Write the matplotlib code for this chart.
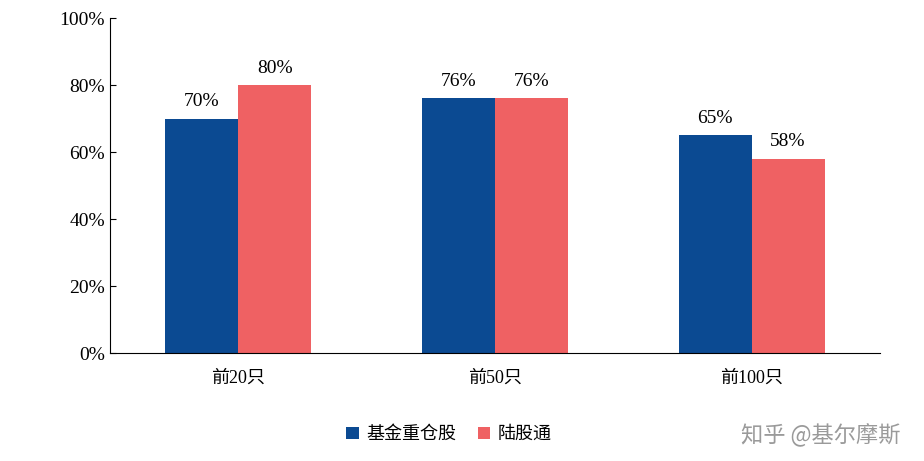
import matplotlib
matplotlib.use("Agg")
import matplotlib.pyplot as plt
import numpy as np

categories = ["前20只", "前50只", "前100只"]
fund = [70, 76, 65]
hk = [80, 76, 58]
series_names = ["基金重仓股", "陆股通"]
yticks = [0, 20, 40, 60, 80, 100]

plt.rcParams['font.family'] = ['Liberation Serif', 'Noto Sans CJK SC', 'DejaVu Sans']
fig = plt.figure(figsize=(9.24, 4.61), dpi=100)
ax = fig.add_axes([110/924, 1-353/461, 770/924, 335/461])
x = np.arange(len(categories))
w = 0.284
c1, c2 = "#0b4a92", "#ef6163"
b1 = ax.bar(x - w/2, fund, w, color=c1, label=series_names[0])
b2 = ax.bar(x + w/2, hk, w, color=c2, label=series_names[1])
for bars, vals in ((b1, fund), (b2, hk)):
    for r, v in zip(bars, vals):
        ax.text(r.get_x()+r.get_width()/2, v+2.5, f"{v}%", ha='center', va='bottom', fontsize=14)
ax.set_xlim(-0.5, 2.5)
ax.set_ylim(0, 100)
ax.set_yticks(yticks)
ax.set_yticklabels([f"{t}%" for t in yticks], fontsize=14)
ax.set_xticks(x)
ax.set_xticklabels(categories, fontsize=13)
ax.tick_params(axis='x', length=0, pad=12)
ax.tick_params(axis='y', direction='in', length=4)
for s in ('top', 'right'):
    ax.spines[s].set_visible(False)
ax.legend(loc='upper center', bbox_to_anchor=(0.44, -0.17), ncol=2, frameon=False,
          fontsize=13, handlelength=0.7, handleheight=0.7, columnspacing=1.2, handletextpad=0.4)
fig.text(0.975, 0.055, "知乎 @基尔摩斯", ha='right', va='center', fontsize=16, color='#9a9a9a',
         family=['Noto Sans CJK SC', 'DejaVu Sans'])
fig.savefig("out.png", dpi=100)
